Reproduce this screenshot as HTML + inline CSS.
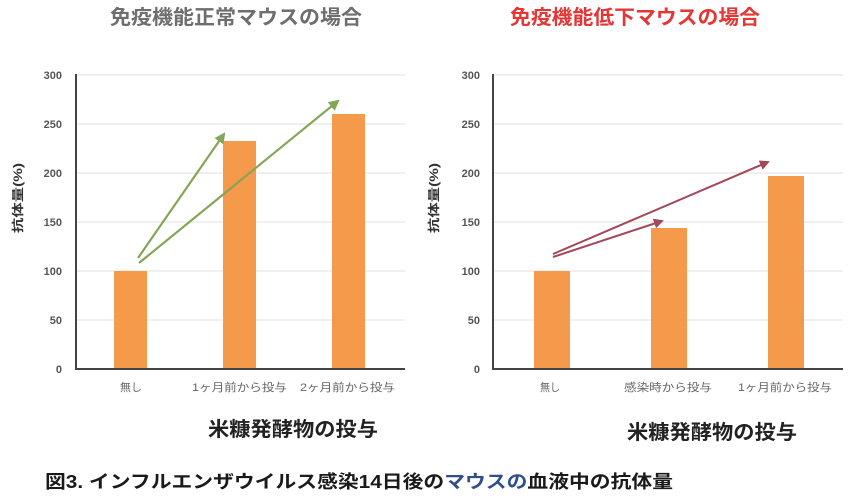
<!DOCTYPE html>
<html><head><meta charset="utf-8"><style>
html,body{margin:0;padding:0;background:#fff;}
svg{display:block;}
text{font-family:"Liberation Sans","Noto Sans CJK JP",sans-serif;}
</style></head><body>
<svg width="850" height="502" viewBox="0 0 850 502" xmlns="http://www.w3.org/2000/svg">
<defs>
<marker id="ag" viewBox="0 0 10 10" refX="8" refY="5" markerWidth="5" markerHeight="5" orient="auto"><path d="M0,0 L10,5 L0,10 z" fill="#86a558"/></marker>
<marker id="ar" viewBox="0 0 10 10" refX="8" refY="5" markerWidth="5" markerHeight="5" orient="auto"><path d="M0,0 L10,5 L0,10 z" fill="#a3485a"/></marker>
</defs>
<rect width="850" height="502" fill="#fff"/>

<!-- Titles -->
<text x="236" y="24" text-anchor="middle" font-size="20" font-weight="bold" fill="#6e6e6e" textLength="252" lengthAdjust="spacingAndGlyphs">免疫機能正常マウスの場合</text>
<text x="635" y="24" text-anchor="middle" font-size="20" font-weight="bold" fill="#e53535" textLength="250" lengthAdjust="spacingAndGlyphs">免疫機能低下マウスの場合</text>

<!-- LEFT CHART -->
<g stroke="#e6e6e6" stroke-width="1.2">
<line x1="77" y1="75" x2="405" y2="75"/>
<line x1="77" y1="124" x2="405" y2="124"/>
<line x1="77" y1="173" x2="405" y2="173"/>
<line x1="77" y1="222" x2="405" y2="222"/>
<line x1="77" y1="271" x2="405" y2="271"/>
<line x1="77" y1="320" x2="405" y2="320"/>
</g>
<g font-size="11" font-weight="bold" fill="#555" text-anchor="end">
<text x="62" y="79">300</text>
<text x="62" y="128">250</text>
<text x="62" y="177">200</text>
<text x="62" y="226">150</text>
<text x="62" y="275">100</text>
<text x="62" y="324">50</text>
<text x="62" y="373">0</text>
</g>
<g fill="#f5994a">
<rect x="114" y="271" width="33" height="98"/>
<rect x="223" y="141" width="33" height="228"/>
<rect x="332" y="114" width="33" height="255"/>
</g>
<line x1="76" y1="74" x2="76" y2="370" stroke="#444" stroke-width="2"/>
<line x1="75" y1="369" x2="405" y2="369" stroke="#444" stroke-width="2"/>
<g font-size="11" fill="#666" text-anchor="middle">
<text x="131" y="391" textLength="22" lengthAdjust="spacingAndGlyphs">無し</text>
<text x="239.5" y="391" textLength="95" lengthAdjust="spacingAndGlyphs">1ヶ月前から投与</text>
<text x="347.5" y="391" textLength="95" lengthAdjust="spacingAndGlyphs">2ヶ月前から投与</text>
</g>
<text x="293" y="436" text-anchor="middle" font-size="20" font-weight="bold" fill="#222" textLength="170" lengthAdjust="spacingAndGlyphs">米糠発酵物の投与</text>
<text transform="translate(22,198) rotate(-90)" text-anchor="middle" font-size="12" font-weight="bold" fill="#333" textLength="70" lengthAdjust="spacingAndGlyphs">抗体量(%)</text>
<g stroke="#86a558" stroke-width="2.2" fill="none">
<line x1="138" y1="258" x2="224" y2="134" marker-end="url(#ag)"/>
<line x1="139" y1="263" x2="338" y2="101" marker-end="url(#ag)"/>
</g>

<!-- RIGHT CHART -->
<g stroke="#e6e6e6" stroke-width="1.2">
<line x1="494" y1="75" x2="843" y2="75"/>
<line x1="494" y1="124" x2="843" y2="124"/>
<line x1="494" y1="173" x2="843" y2="173"/>
<line x1="494" y1="222" x2="843" y2="222"/>
<line x1="494" y1="271" x2="843" y2="271"/>
<line x1="494" y1="320" x2="843" y2="320"/>
</g>
<g font-size="11" font-weight="bold" fill="#555" text-anchor="end">
<text x="480" y="79">300</text>
<text x="480" y="128">250</text>
<text x="480" y="177">200</text>
<text x="480" y="226">150</text>
<text x="480" y="275">100</text>
<text x="480" y="324">50</text>
<text x="480" y="373">0</text>
</g>
<g fill="#f5994a">
<rect x="534" y="271" width="36" height="98"/>
<rect x="651" y="228" width="36" height="141"/>
<rect x="768" y="176" width="36" height="193"/>
</g>
<line x1="493" y1="74" x2="493" y2="370" stroke="#444" stroke-width="2"/>
<line x1="492" y1="369" x2="843" y2="369" stroke="#444" stroke-width="2"/>
<g font-size="11" fill="#666" text-anchor="middle">
<text x="550" y="391" textLength="20" lengthAdjust="spacingAndGlyphs">無し</text>
<text x="668" y="391" textLength="88" lengthAdjust="spacingAndGlyphs">感染時から投与</text>
<text x="785" y="391" textLength="94" lengthAdjust="spacingAndGlyphs">1ヶ月前から投与</text>
</g>
<text x="712" y="439" text-anchor="middle" font-size="20" font-weight="bold" fill="#222" textLength="170" lengthAdjust="spacingAndGlyphs">米糠発酵物の投与</text>
<text transform="translate(438,198) rotate(-90)" text-anchor="middle" font-size="12" font-weight="bold" fill="#333" textLength="70" lengthAdjust="spacingAndGlyphs">抗体量(%)</text>
<g stroke="#a3485a" stroke-width="2" fill="none">
<line x1="553" y1="257" x2="662" y2="221" marker-end="url(#ar)"/>
<line x1="553" y1="254" x2="768" y2="162" marker-end="url(#ar)"/>
</g>

<!-- Caption -->
<text x="45" y="488" font-size="18" font-weight="bold" fill="#1a1a1a" textLength="628" lengthAdjust="spacingAndGlyphs">図3. インフルエンザウイルス感染14日後の<tspan fill="#2f4f8a">マウスの</tspan>血液中の抗体量</text>
</svg>
</body></html>
